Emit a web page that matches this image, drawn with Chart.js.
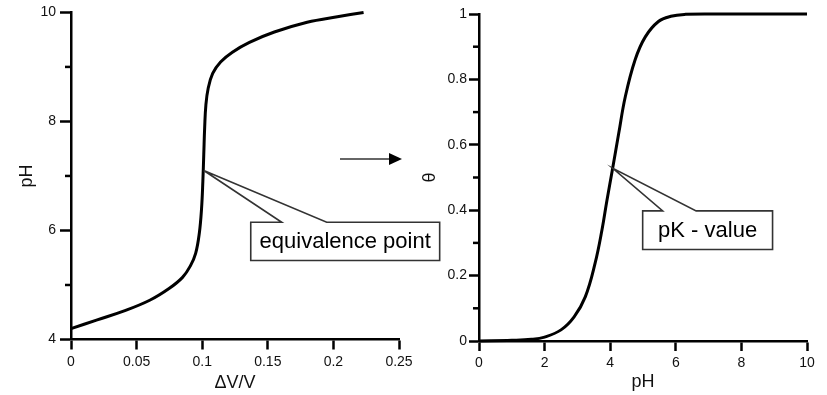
<!DOCTYPE html>
<html>
<head>
<meta charset="utf-8">
<script src="https://cdn.jsdelivr.net/npm/chart.js@4.4.0/dist/chart.umd.min.js"></script>
<style>
  html, body { margin: 0; padding: 0; background: #fff; }
  #wrap { position: relative; width: 827px; height: 395px; overflow: hidden; }
  #titrationChart { position: absolute; left: 0; top: 0; }
  #thetaChart { position: absolute; left: 400px; top: 0; }
</style>
</head>
<body>
<div id="wrap">
  <canvas id="titrationChart" width="450" height="395"></canvas>
  <canvas id="thetaChart" width="427" height="395"></canvas>
</div>
<script>
// ========================================
// Data
// ========================================

// titration curve: pH against added volume fraction
const dvOverV = [0, 0.02, 0.04, 0.06, 0.075, 0.085, 0.091, 0.095, 0.0978, 0.0995, 0.1005, 0.1012, 0.1019, 0.1028, 0.1045, 0.108, 0.114, 0.123, 0.136, 0.155, 0.18, 0.203, 0.223];
const phTitration = [4.2, 4.36, 4.52, 4.72, 4.94, 5.14, 5.35, 5.58, 5.95, 6.4, 6.9, 7.4, 7.9, 8.3, 8.6, 8.88, 9.09, 9.27, 9.45, 9.64, 9.82, 9.92, 10.0];

// degree of dissociation against pH
const phValues = [0, 1.0, 1.6, 2.0, 2.5, 2.9, 3.24, 3.54, 3.75, 3.9, 4.06, 4.26, 4.46, 4.76, 5.07, 5.47, 5.85, 6.3, 7, 8.5, 10];
const thetaValues = [0, 0.002, 0.005, 0.012, 0.034, 0.074, 0.135, 0.238, 0.34, 0.43, 0.52, 0.635, 0.747, 0.86, 0.93, 0.977, 0.993, 0.999, 1.0, 1.0, 1.0];

// axis ticks
const leftXTicks = [0, 0.05, 0.1, 0.15, 0.2, 0.25];
const leftXLabels = ['0', '0.05', '0.1', '0.15', '0.2', '0.25'];
const leftYTicks = [4, 6, 8, 10];
const leftYLabels = ['4', '6', '8', '10'];
const leftYMinor = [5, 7, 9];

const rightXTicks = [0, 2, 4, 6, 8, 10];
const rightXLabels = ['0', '2', '4', '6', '8', '10'];
const rightYTicks = [0, 0.2, 0.4, 0.6, 0.8, 1];
const rightYLabels = ['0', '0.2', '0.4', '0.6', '0.8', '1'];
const rightYMinor = [0.1, 0.3, 0.5, 0.7, 0.9];

// callouts (anchor on curve, box in data units)
const equivCallout = { text: 'equivalence point', anchor: [0.1012, 7.1], base: [0.1606, 0.1949], box: [0.137, 6.15, 0.281, 5.45] };
const pkCallout = { text: 'pK - value', anchor: [4.08, 0.528], base: [5.6, 6.62], box: [4.99, 0.398, 8.95, 0.28] };

const FONT = '"Liberation Sans", Arial, sans-serif';

// ========================================
// Plugins
// ========================================

// short unlabelled ticks on the y axis
const minorTicks = {
  id: 'minorTicks',
  afterDraw(chart, args, opts) {
    const { ctx, chartArea } = chart;
    const y = chart.scales.y;
    ctx.save();
    ctx.strokeStyle = '#000';
    ctx.lineWidth = 2.5;
    (opts.values || []).forEach(v => {
      const py = y.getPixelForValue(v);
      ctx.beginPath();
      ctx.moveTo(chartArea.left - opts.length, py);
      ctx.lineTo(chartArea.left, py);
      ctx.stroke();
    });
    ctx.restore();
  }
};

// speech-bubble style label pointing at the curve
const callout = {
  id: 'callout',
  afterDraw(chart, args, opts) {
    if (!opts.text) return;
    const { ctx } = chart;
    const xs = chart.scales.x, ys = chart.scales.y;
    const ax = xs.getPixelForValue(opts.anchor[0]);
    const ay = ys.getPixelForValue(opts.anchor[1]);
    const l = xs.getPixelForValue(opts.box[0]);
    const t = ys.getPixelForValue(opts.box[1]);
    const r = xs.getPixelForValue(opts.box[2]);
    const b = ys.getPixelForValue(opts.box[3]);
    const b1 = xs.getPixelForValue(opts.base[0]);
    const b2 = xs.getPixelForValue(opts.base[1]);

    ctx.save();
    ctx.beginPath();
    ctx.moveTo(l, t);
    ctx.lineTo(b1, t);
    ctx.lineTo(ax, ay);
    ctx.lineTo(b2, t);
    ctx.lineTo(r, t);
    ctx.lineTo(r, b);
    ctx.lineTo(l, b);
    ctx.closePath();
    ctx.fillStyle = '#fff';
    ctx.fill();
    ctx.strokeStyle = '#333';
    ctx.lineWidth = 1.6;
    ctx.lineJoin = 'miter';
    ctx.stroke();

    ctx.fillStyle = '#000';
    ctx.font = `22px ${FONT}`;
    ctx.textAlign = 'center';
    ctx.textBaseline = 'middle';
    ctx.fillText(opts.text, (l + r) / 2, (t + b) / 2 + 1);
    ctx.restore();
  }
};

// arrow between the two panels
const arrow = {
  id: 'arrow',
  afterDraw(chart, args, opts) {
    if (!opts.from) return;
    const { ctx } = chart;
    const [x0, y0] = opts.from;
    const x1 = opts.to;
    ctx.save();
    ctx.strokeStyle = '#666';
    ctx.lineWidth = 1.8;
    ctx.beginPath();
    ctx.moveTo(x0, y0);
    ctx.lineTo(x1 - 10, y0);
    ctx.stroke();
    ctx.fillStyle = '#000';
    ctx.beginPath();
    ctx.moveTo(x1, y0);
    ctx.lineTo(x1 - 13, y0 - 6);
    ctx.lineTo(x1 - 13, y0 + 6);
    ctx.closePath();
    ctx.fill();
    ctx.restore();
  }
};

// ========================================
// Chart builders
// ========================================

function fixedTicks(values) {
  return scale => { scale.ticks = values.map(v => ({ value: v })); };
}

function axis(opts) {
  return {
    type: 'linear',
    min: opts.min,
    max: opts.max,
    afterBuildTicks: fixedTicks(opts.ticks),
    afterFit: scale => {
      if (opts.width) scale.width = opts.width;
      if (opts.height) scale.height = opts.height;
    },
    border: { display: true, color: '#000', width: 2.5 },
    grid: {
      drawOnChartArea: false,
      drawTicks: true,
      tickLength: opts.tickLength,
      tickColor: '#000',
      tickWidth: 2.5
    },
    ticks: {
      autoSkip: false,
      maxRotation: 0,
      padding: opts.padding,
      color: '#111',
      font: { family: FONT, size: 14 },
      callback: (v, i) => opts.labels[i]
    },
    title: {
      display: true,
      text: opts.title,
      color: '#111',
      font: { family: FONT, size: 18 },
      padding: opts.titlePadding
    }
  };
}

function curveChart(canvasId, xs, ys, cfg) {
  const ctx = document.getElementById(canvasId);
  return new Chart(ctx, {
    type: 'line',
    data: {
      datasets: [{
        data: xs.map((x, i) => ({ x, y: ys[i] })),
        borderColor: '#000',
        borderWidth: 3,
        pointRadius: 0,
        tension: 0.4,
        fill: false,
        clip: false
      }]
    },
    options: {
      responsive: false,
      animation: false,
      layout: { padding: cfg.padding },
      plugins: {
        legend: { display: false },
        tooltip: { enabled: false },
        minorTicks: cfg.minor,
        callout: cfg.callout,
        arrow: cfg.arrow || {}
      },
      scales: { x: cfg.x, y: cfg.y }
    },
    plugins: [minorTicks, callout, arrow]
  });
}

// Titration panel (left)
curveChart('titrationChart', dvOverV, phTitration, {
  padding: { left: 0, right: 51, top: 11.7, bottom: 0 },
  x: axis({ min: 0, max: 0.25, ticks: leftXTicks, labels: leftXLabels, height: 55.5,
            tickLength: 10, padding: 4, title: '\u0394V/V', titlePadding: { top: 0, bottom: 1 } }),
  y: axis({ min: 4, max: 10, ticks: leftYTicks, labels: leftYLabels, width: 71,
            tickLength: 11, padding: 4, title: 'pH', titlePadding: { top: 16, bottom: 0 } }),
  minor: { values: leftYMinor, length: 6 },
  callout: equivCallout,
  arrow: { from: [340, 159], to: 402 }
});

// Dissociation panel (right)
curveChart('thetaChart', phValues, thetaValues, {
  padding: { left: 0, right: 20, top: 14, bottom: 0 },
  x: axis({ min: 0, max: 10, ticks: rightXTicks, labels: rightXLabels, height: 54,
            tickLength: 10, padding: 4, title: 'pH', titlePadding: { top: 0, bottom: 2 } }),
  y: axis({ min: 0, max: 1, ticks: rightYTicks, labels: rightYLabels, width: 79,
            tickLength: 10, padding: 2, title: '\u03b8', titlePadding: { top: 19, bottom: 0 } }),
  minor: { values: rightYMinor, length: 6 },
  callout: pkCallout
});
</script>
</body>
</html>
